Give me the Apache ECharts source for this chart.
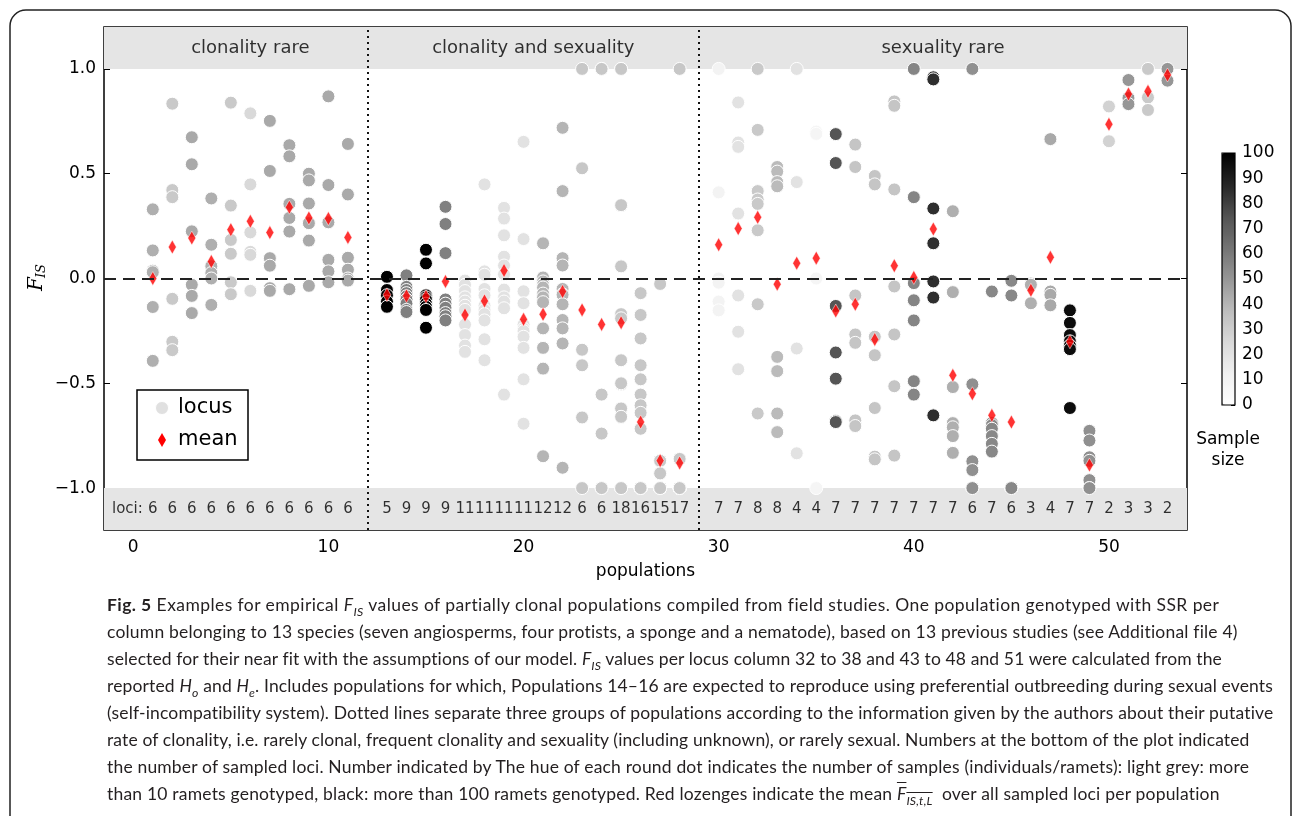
<!DOCTYPE html>
<html>
<head>
<meta charset="utf-8">
<script src="https://cdn.jsdelivr.net/npm/echarts@6/dist/echarts.min.js"></script>
<style>
  html, body { margin: 0; padding: 0; background: #fff; }
  #wrap { position: relative; width: 1292px; height: 816px; overflow: hidden; }
  #chart { position: absolute; left: 0; top: 0; width: 1292px; height: 816px; }
  #caption { position: absolute; left: 107px; top: 591px; font-family: Lato, "Open Sans", sans-serif;
             font-size: 17.5px; line-height: 27px; color: #231f20; white-space: nowrap; }
  #caption .ln { display: block; height: 27px; }
  #caption .ln > span { display: inline-block; }
  #caption sub { font-size: 0.7em; line-height: 0; }
  .ol { text-decoration: overline; }
</style>
</head>
<body>
<div id="wrap">
  <div id="chart"></div>
  <div id="caption">
    <div class="ln"><span><b>Fig. 5</b> Examples for empirical <i>F</i><sub><i>IS</i></sub> values of partially clonal populations compiled from field studies. One population genotyped with SSR per</span></div>
    <div class="ln"><span>column belonging to 13 species (seven angiosperms, four protists, a sponge and a nematode), based on 13 previous studies (see Additional file 4)</span></div>
    <div class="ln"><span>selected for their near fit with the assumptions of our model. <i>F</i><sub><i>IS</i></sub> values per locus column 32 to 38 and 43 to 48 and 51 were calculated from the</span></div>
    <div class="ln"><span>reported <i>H</i><sub><i>o</i></sub> and <i>H</i><sub><i>e</i></sub>. Includes populations for which, Populations 14–16 are expected to reproduce using preferential outbreeding during sexual events</span></div>
    <div class="ln"><span>(self-incompatibility system). Dotted lines separate three groups of populations according to the information given by the authors about their putative</span></div>
    <div class="ln"><span>rate of clonality, i.e. rarely clonal, frequent clonality and sexuality (including unknown), or rarely sexual. Numbers at the bottom of the plot indicated</span></div>
    <div class="ln"><span>the number of sampled loci. Number indicated by The hue of each round dot indicates the number of samples (individuals/ramets): light grey: more</span></div>
    <div class="ln"><span>than 10 ramets genotyped, black: more than 100 ramets genotyped. Red lozenges indicate the mean <span class="ol"><i>F</i><sub><i>IS,t,L</i></sub></span>&nbsp; over all sampled loci per population</span></div>
  </div>
</div>
<script>
// ---------------- data ----------------
const populations = [1,2,3,4,5,6,7,8,9,10,11,
  13,14,15,16,17,18,19,20,21,22,23,24,25,26,27,28,
  30,31,32,33,34,35,36,37,38,39,40,41,42,43,44,45,46,47,48,49,50,51,52,53];

const lociCounts = [6,6,6,6,6,6,6,6,6,6,6,
  5,9,9,9,11,11,11,11,12,12,6,6,18,16,15,17,
  7,7,8,8,4,4,7,7,7,7,7,7,7,6,7,6,3,4,7,7,2,3,3,2];

const sampleSizes = [42,32,44,42,32,25,44,44,44,44,44,
  100,58,100,58,20,20,20,20,40,40,33,33,33,33,33,33,
  10,20,32,38,20,8,74,34,34,34,56,85,42,52,55,55,42,44,96,52,28,50,32,50];

const meanFis = [0.0,0.150,0.193,0.081,0.233,0.273,0.219,0.340,0.289,0.286,0.196,
  -0.078,-0.083,-0.086,-0.014,-0.174,-0.107,0.038,-0.195,-0.171,-0.062,-0.150,-0.219,-0.211,-0.685,-0.869,-0.880,
  0.161,0.238,0.292,-0.027,0.073,0.097,-0.155,-0.123,-0.291,0.061,0.005,0.236,-0.462,-0.550,-0.653,-0.685,-0.056,0.101,-0.302,-0.890,0.736,0.880,0.893,0.971];

const locusFis = [
  [0.33,0.134,0.037,0.03,-0.136,-0.393],
  [0.834,0.422,0.388,-0.097,-0.302,-0.342],
  [0.674,0.545,0.225,-0.03,-0.083,-0.165],
  [0.382,0.161,0.059,0.026,0.0,-0.126],
  [0.839,0.348,0.184,0.118,-0.018,-0.075],
  [0.788,0.449,0.22,0.127,0.113,-0.059],
  [0.752,0.513,0.097,0.061,-0.046,-0.059],
  [0.636,0.583,0.356,0.289,0.224,-0.051],
  [0.5,0.468,0.358,0.264,0.181,-0.035],
  [0.869,0.446,0.268,0.089,0.034,-0.018],
  [0.642,0.401,0.099,0.042,0.0,-0.01],
  [0.008,-0.055,-0.08,-0.11,-0.135],
  [0.015,-0.04,-0.055,-0.07,-0.085,-0.10,-0.12,-0.15,-0.16],
  [0.137,0.072,-0.08,-0.09,-0.10,-0.12,-0.135,-0.15,-0.235],
  [0.342,0.26,0.121,-0.10,-0.12,-0.14,-0.165,-0.18,-0.20],
  [-0.01,-0.03,-0.06,-0.09,-0.11,-0.13,-0.15,-0.22,-0.27,-0.32,-0.35],
  [0.449,0.034,0.018,-0.05,-0.08,-0.13,-0.15,-0.17,-0.20,-0.29,-0.39],
  [0.337,0.286,0.206,0.104,0.062,0.02,-0.053,-0.09,-0.11,-0.142,-0.554],
  [0.652,0.188,-0.061,-0.118,-0.22,-0.24,-0.251,-0.278,-0.331,-0.481,-0.693],
  [0.168,0.005,-0.014,-0.03,-0.043,-0.072,-0.09,-0.113,-0.238,-0.331,-0.43,-0.848],
  [0.719,0.417,0.097,0.062,-0.05,-0.075,-0.078,-0.123,-0.198,-0.238,-0.31,-0.903],
  [1.0,0.526,-0.34,-0.414,-0.663,-1.0],
  [1.0,1.0,-0.554,-0.74,-1.0,-1.0],
  [1.0,1.0,0.348,0.35,0.058,-0.174,-0.17,-0.19,-0.39,-0.39,-0.505,-0.5,-0.621,-0.62,-0.661,-0.66,-1.0,-1.0],
  [-0.07,-0.174,-0.286,-0.414,-0.481,-0.554,-0.605,-0.641,-0.717,-1.0,-1.0,-1.0,-1.0,-1.0,-1.0,-1.0],
  [-0.026,-0.87,-0.87,-0.87,-0.87,-0.928,-0.93,-1.0,-1.0,-1.0,-1.0,-1.0,-1.0,-1.0,-1.0],
  [1.0,-0.861,-0.861,-0.861,-0.861,-0.861,-0.861,-1.0,-1.0,-1.0,-1.0,-1.0,-1.0,-1.0,-1.0,-1.0,-1.0],
  [1.0,0.411,0.0,0.0,-0.02,-0.11,-0.152],
  [0.84,0.649,0.628,0.31,-0.081,-0.254,-0.433],
  [1.0,0.709,0.417,0.377,0.356,0.23,-0.123,-0.644],
  [0.532,0.51,0.46,0.44,-0.374,-0.442,-0.644,-0.733],
  [1.0,0.46,-0.334,-0.834],
  [0.701,0.69,0.0,-1.0],
  [0.689,0.551,-0.131,-0.353,-0.478,-0.68,-0.685],
  [0.639,0.532,-0.081,-0.267,-0.307,-0.677,-0.704],
  [0.489,0.449,-0.278,-0.366,-0.618,-0.85,-0.863],
  [0.845,0.824,0.425,-0.038,-0.267,-0.514,-0.845],
  [1.0,0.388,-0.022,-0.104,-0.2,-0.49,-0.554],
  [0.96,0.95,0.334,0.168,-0.014,-0.091,-0.653],
  [0.321,-0.065,-0.518,-0.69,-0.71,-0.752,-0.832],
  [1.0,-0.505,-0.872,-0.914,-1.0,-1.0],
  [-0.062,-0.69,-0.70,-0.717,-0.752,-0.789,-0.826],
  [-0.011,-0.081,-1.0,-1.0,-1.0,-1.0],
  [-0.024,-0.03,-0.118],
  [0.665,-0.062,-0.078,-0.128],
  [-0.152,-0.212,-0.27,-0.30,-0.32,-0.337,-0.618],
  [-0.727,-0.773,-0.853,-0.87,-0.962,-1.0,-1.0],
  [0.821,0.655],
  [0.947,0.861,0.832],
  [1.0,0.864,0.804],
  [1.0,0.944]
];

const groupNames = ['clonality rare', 'clonality and sexuality', 'sexuality rare'];
const groupRanges = [[1, 11], [13, 28], [30, 53]];
const xTicks = [0, 10, 20, 30, 40, 50];
const yTicks = [-1.0, -0.5, 0.0, 0.5, 1.0];

// ---------------- caption line fitting (layout only) ----------------
const captionWidths = [1113, 1131, 1115, 1167, 1167, 1142, 1142, 1113];
document.querySelectorAll('#caption .ln > span').forEach((el, i) => {
  const w = el.getBoundingClientRect().width;
  const n = el.textContent.length;
  el.style.letterSpacing = ((captionWidths[i] - w) / n).toFixed(3) + 'px';
});

// ---------------- build ----------------
const locusData = [];
locusFis.forEach((arr, i) => arr.forEach(v => locusData.push([populations[i], v, sampleSizes[i]])));
const meanData = meanFis.map((v, i) => [populations[i], v]);
const lociLabelData = [[-0.3, -1.1, 'loci:']].concat(populations.map((p, i) => [p, -1.1, String(lociCounts[i])]));
const groupLabelData = groupRanges.map((r, i) => [(r[0] + r[1]) / 2, 1.1, groupNames[i]]);
const dividers = groupRanges.slice(0, -1).map((r, i) => (r[1] + groupRanges[i + 1][0]) / 2);

const FONT = '"DejaVu Sans", sans-serif';
const fmtY = v => v.toFixed(1).replace('-', '\u2212');
const noLine = { show: false, onZero: false };
const tick = (vals) => ({ show: true, inside: true, length: 6, lineStyle: { color: '#000', width: 1 }, customValues: vals });

const chart = echarts.init(document.getElementById('chart'), null, { renderer: 'canvas' });

const option = {
  animation: false,
  backgroundColor: '#fff',
  grid: [
    { left: 104, top: 27, width: 1083, height: 503, show: true, borderColor: '#000', borderWidth: 1.5, backgroundColor: 'transparent', z: 0 },
    { left: 1222, top: 153, width: 13, height: 252, show: false }
  ],
  xAxis: [
    { gridIndex: 0, type: 'value', min: -1.5, max: 54, position: 'bottom',
      axisLine: noLine, axisTick: tick(xTicks),
      axisLabel: { show: true, customValues: xTicks, color: '#000', fontSize: 17, fontFamily: FONT, margin: 9 },
      splitLine: { show: false },
      name: 'populations', nameLocation: 'middle', nameGap: 33,
      nameTextStyle: { color: '#000', fontSize: 17, fontFamily: FONT } },
    { gridIndex: 0, type: 'value', min: -1.5, max: 54, position: 'top',
      axisLine: noLine, axisTick: tick(xTicks),
      axisLabel: { show: false }, splitLine: { show: false } },
    { gridIndex: 1, type: 'value', min: 0, max: 1, show: false }
  ],
  yAxis: [
    { gridIndex: 0, type: 'value', min: -1.2, max: 1.2, position: 'left',
      axisLine: noLine, axisTick: tick(yTicks),
      axisLabel: { show: true, customValues: yTicks, color: '#000', fontSize: 17, fontFamily: FONT, margin: 8, formatter: fmtY },
      splitLine: { show: false } },
    { gridIndex: 0, type: 'value', min: -1.2, max: 1.2, position: 'right',
      axisLine: noLine, axisTick: tick(yTicks),
      axisLabel: { show: false }, splitLine: { show: false } },
    { gridIndex: 1, type: 'value', min: 0, max: 100, interval: 10, position: 'right',
      axisLine: noLine,
      axisTick: { show: true, inside: true, length: 4, lineStyle: { color: '#000', width: 1 } },
      axisLabel: { show: true, color: '#000', fontSize: 17, fontFamily: FONT, margin: 7 },
      splitLine: { show: false } }
  ],
  visualMap: {
    type: 'continuous', min: 0, max: 100, dimension: 2, seriesIndex: 1,
    left: 1222, top: 153, itemWidth: 13, itemHeight: 252, padding: 0,
    calculable: false, hoverLink: false, text: null, showLabel: false,
    inRange: { color: ['#ffffff', '#f0f0f0', '#d9d9d9', '#bdbdbd', '#969696', '#737373', '#525252', '#252525', '#000000'] },
    outOfRange: { color: '#000' }
  },
  series: [
    { // bands and reference lines
      type: 'scatter', xAxisIndex: 0, yAxisIndex: 0, z: 1, silent: true,
      data: [[-10, -10]], symbolSize: 0,
      markArea: { silent: true, itemStyle: { color: '#e5e5e5' },
        data: [[{ yAxis: 1.0 }, { yAxis: 1.2 }], [{ yAxis: -1.2 }, { yAxis: -1.0 }]] },
      markLine: { silent: true, symbol: 'none', label: { show: false },
        data: [
          { yAxis: 0, lineStyle: { type: [12, 7], color: '#222', width: 2 } }
        ].concat(dividers.map(d => ({ xAxis: d, lineStyle: { type: [2, 4], color: '#111', width: 2 } }))) }
    },
    { name: 'locus', type: 'scatter', xAxisIndex: 0, yAxisIndex: 0, z: 3,
      data: locusData, symbol: 'circle', symbolSize: 13,
      itemStyle: { borderColor: '#fff', borderWidth: 1, opacity: 1 } },
    { name: 'mean', type: 'scatter', xAxisIndex: 0, yAxisIndex: 0, z: 4,
      data: meanData, symbol: 'diamond', symbolSize: [8, 14],
      itemStyle: { color: '#ff0000', borderColor: '#fff', borderWidth: 0.6 } },
    { name: 'loci', type: 'scatter', xAxisIndex: 0, yAxisIndex: 0, z: 5, silent: true,
      data: lociLabelData, symbolSize: 0,
      label: { show: true, position: 'inside', formatter: p => p.data[2], color: '#000', fontSize: 15, fontFamily: FONT } },
    { name: 'groups', type: 'scatter', xAxisIndex: 0, yAxisIndex: 0, z: 5, silent: true,
      data: groupLabelData, symbolSize: 0,
      label: { show: true, position: 'inside', formatter: p => p.data[2], color: '#000', fontSize: 18, fontFamily: FONT } }
  ],
  graphic: [
    { type: 'rect', z: 200, silent: true, shape: { x: 10, y: 10, width: 1281, height: 900, r: 16 },
      style: { fill: 'none', stroke: '#222', lineWidth: 1.5 } },
    { type: 'rect', z: 200, silent: true, shape: { x: 1222, y: 153, width: 13, height: 252 },
      style: { fill: 'none', stroke: '#000', lineWidth: 1.2 } },
    { type: 'text', z: 200, x: 1228, y: 440, style: { text: 'Sample', fontSize: 17, fontFamily: FONT, fill: '#000', align: 'center', verticalAlign: 'middle' } },
    { type: 'text', z: 200, x: 1228, y: 461, style: { text: 'size', fontSize: 17, fontFamily: FONT, fill: '#000', align: 'center', verticalAlign: 'middle' } },
    { type: 'group', z: 200, x: 37, y: 279, rotation: Math.PI / 2, children: [
      { type: 'text', x: -5, y: 0, style: { text: 'F', fontSize: 20, fontStyle: 'italic', fontFamily: '"DejaVu Serif", serif', fill: '#000', align: 'center', verticalAlign: 'middle' } },
      { type: 'text', x: 8, y: 5, style: { text: 'IS', fontSize: 13, fontStyle: 'italic', fontFamily: '"DejaVu Serif", serif', fill: '#000', align: 'center', verticalAlign: 'middle' } }
    ] },
    { type: 'group', z: 200, children: [
      { type: 'rect', shape: { x: 137, y: 390, width: 111, height: 70 }, style: { fill: '#fff', stroke: '#000', lineWidth: 1.5 } },
      { type: 'circle', shape: { cx: 162, cy: 408, r: 6.5 }, style: { fill: '#e0e0e0', stroke: '#fff', lineWidth: 1 } },
      { type: 'text', x: 178, y: 408, style: { text: 'locus', fontSize: 21, fontFamily: FONT, fill: '#000', align: 'left', verticalAlign: 'middle' } },
      { type: 'polygon', shape: { points: [[162, 433], [166, 440], [162, 447], [158, 440]] }, style: { fill: '#ff0000' } },
      { type: 'text', x: 178, y: 440, style: { text: 'mean', fontSize: 21, fontFamily: FONT, fill: '#000', align: 'left', verticalAlign: 'middle' } }
    ] }
  ]
};
chart.setOption(option);
</script>
</body>
</html>
